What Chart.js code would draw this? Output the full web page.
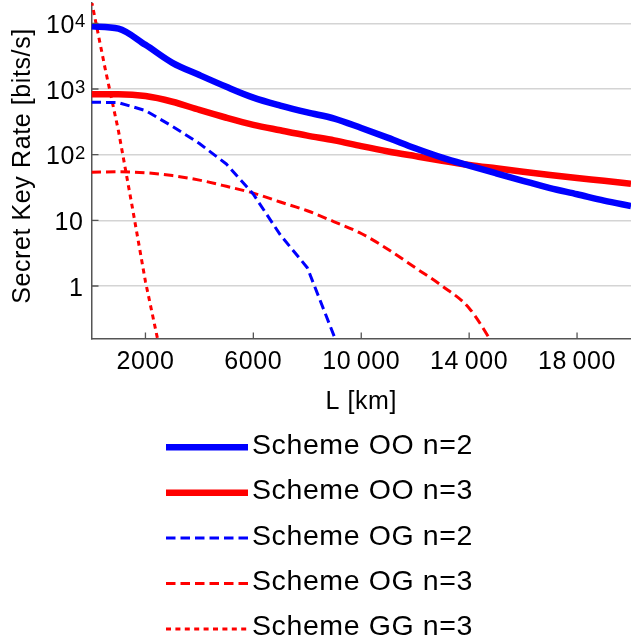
<!DOCTYPE html>
<html>
<head>
<meta charset="utf-8">
<script src="https://cdn.jsdelivr.net/npm/chart.js@4"></script>
<style>
  html, body { margin: 0; padding: 0; background: #fff; }
  canvas { display: block; }
</style>
</head>
<body>
<canvas id="skrChart" width="631" height="637"></canvas>
<script>
// Distances along the link (km)
const distanceKm = [0, 1000, 2000, 3000, 4000, 5000, 6000, 7000, 8000, 9000, 10000,
  11000, 12000, 13000, 14000, 15000, 16000, 17000, 18000, 19000, 20000];
const distanceGG = [0, 500, 1000, 1500, 2000, 2500];

// Secret key rates (bits/s)
const rateOO2 = [9000, 8300, 4700, 2500, 1630, 1080, 740, 560, 440, 355, 255,
  180, 125, 90, 68, 52, 40, 31, 25, 20, 16.5];
const rateOO3 = [830, 830, 780, 640, 480, 365, 285, 235, 195, 165, 135,
  112, 95, 81, 70, 62, 55, 49, 44, 40, 36];
const rateOG2 = [630, 620, 470, 270, 148, 72, 25, 6, 1.9, 0.17];
const rateOG3 = [54, 55, 53, 48, 41, 33, 26, 19, 14, 9.5, 6.3, 3.6, 1.9, 1.0, 0.46, 0.11];
const rateGG3 = [22000, 2100, 230, 17, 1.17, 0.125];

const seriesLabels = ['Scheme OO n=2', 'Scheme OO n=3', 'Scheme OG n=2', 'Scheme OG n=3', 'Scheme GG n=3'];

// Axis ticks
const yTickValues = [1, 10, 100, 1000, 10000];
const xTickValues = [2000, 6000, 10000, 14000, 18000];
const xTickLabels = ['2000', '6000', '10\u2009000', '14\u2009000', '18\u2009000'];

const FONT = '"Liberation Sans", Arial, sans-serif';

function pts(xs, ys) {
  return ys.map((v, i) => ({ x: xs[i], y: v }));
}

// axes decorations, labels and the legend list below the plot
const plotDecor = {
  id: 'plotDecor',
  afterDraw(chart) {
    const { ctx, chartArea: a, scales: { x, y } } = chart;
    ctx.save();

    // inner tick marks
    ctx.strokeStyle = '#555';
    ctx.lineWidth = 1.3;
    ctx.beginPath();
    yTickValues.forEach(v => {
      const py = y.getPixelForValue(v);
      ctx.moveTo(a.left, py); ctx.lineTo(a.left + 7, py);
    });
    xTickValues.forEach(v => {
      const px = x.getPixelForValue(v);
      ctx.moveTo(px, a.bottom); ctx.lineTo(px, a.bottom - 6.5);
    });
    ctx.stroke();

    ctx.fillStyle = '#000';
    ctx.letterSpacing = '0.6px';

    // y tick labels (powers of ten)
    yTickValues.forEach(v => {
      const py = y.getPixelForValue(v);
      const exp = Math.round(Math.log10(v));
      ctx.font = '25px ' + FONT;
      if (exp < 2) {
        ctx.textAlign = 'right';
        ctx.fillText(String(v), 83.5, py + 9.5);
      } else {
        ctx.textAlign = 'right';
        ctx.fillText('10', 75, py + 9.5);
        ctx.font = '18.5px ' + FONT;
        ctx.textAlign = 'left';
        ctx.fillText(String(exp), 75, py + 4);
      }
    });

    // x tick labels
    ctx.font = '25px ' + FONT;
    ctx.textAlign = 'center';
    xTickValues.forEach((v, i) => {
      ctx.fillText(xTickLabels[i], x.getPixelForValue(v), a.bottom + 30);
    });

    // axis titles
    ctx.fillText('L [km]', (a.left + a.right) / 2, 409);
    ctx.save();
    ctx.translate(30, 166);
    ctx.rotate(-Math.PI / 2);
    ctx.textAlign = 'center';
    ctx.fillText('Secret Key Rate [bits/s]', 0, 0);
    ctx.restore();

    // legend
    ctx.font = '28.5px ' + FONT;
    ctx.textAlign = 'left';
    chart.data.datasets.forEach((ds, i) => {
      const cy = 447.3 + i * 45.4;
      ctx.strokeStyle = ds.borderColor;
      ctx.lineWidth = ds.borderWidth;
      ctx.setLineDash(ds.borderDash || []);
      ctx.beginPath();
      ctx.moveTo(166, cy); ctx.lineTo(248, cy);
      ctx.stroke();
      ctx.setLineDash([]);
      ctx.fillText(ds.label, 252, cy + 6.5);
    });

    ctx.restore();
  }
};

new Chart(document.getElementById('skrChart'), {
  type: 'line',
  data: {
    datasets: [
      { label: seriesLabels[0], data: pts(distanceKm, rateOO2), borderColor: '#0000ff', borderWidth: 6.5, cubicInterpolationMode: 'monotone' },
      { label: seriesLabels[1], data: pts(distanceKm, rateOO3), borderColor: '#ff0000', borderWidth: 6.5, cubicInterpolationMode: 'monotone' },
      { label: seriesLabels[2], data: pts(distanceKm, rateOG2), borderColor: '#0000ff', borderWidth: 3, borderDash: [9.5, 5], tension: 0 },
      { label: seriesLabels[3], data: pts(distanceKm, rateOG3), borderColor: '#ff0000', borderWidth: 3, borderDash: [9.5, 5], cubicInterpolationMode: 'monotone' },
      { label: seriesLabels[4], data: pts(distanceGG, rateGG3), borderColor: '#ff0000', borderWidth: 3, borderDash: [5, 4.4], tension: 0 }
    ]
  },
  options: {
    responsive: false,
    animation: false,
    devicePixelRatio: 1,
    layout: { padding: { left: 91.5, right: -2, top: 3, bottom: 298 } },
    elements: {
      line: { tension: 0, fill: false, borderCapStyle: 'butt', borderJoinStyle: 'round' },
      point: { radius: 0, hoverRadius: 0 }
    },
    plugins: { legend: { display: false }, tooltip: { enabled: false } },
    scales: {
      x: {
        type: 'linear',
        min: 0,
        max: 20000,
        afterBuildTicks: s => { s.ticks = xTickValues.map(v => ({ value: v })); },
        ticks: { display: false },
        grid: { display: false, drawTicks: false },
        border: { display: true, color: '#555', width: 1.5 }
      },
      y: {
        type: 'logarithmic',
        min: 0.156,
        max: 20400,
        bounds: 'data',
        afterBuildTicks: s => { s.ticks = yTickValues.map(v => ({ value: v })); },
        ticks: { display: false },
        grid: { color: '#d4d4d4', lineWidth: 1.5, drawTicks: false },
        border: { display: true, color: '#555', width: 1.5 }
      }
    }
  },
  plugins: [plotDecor]
});
</script>
</body>
</html>
